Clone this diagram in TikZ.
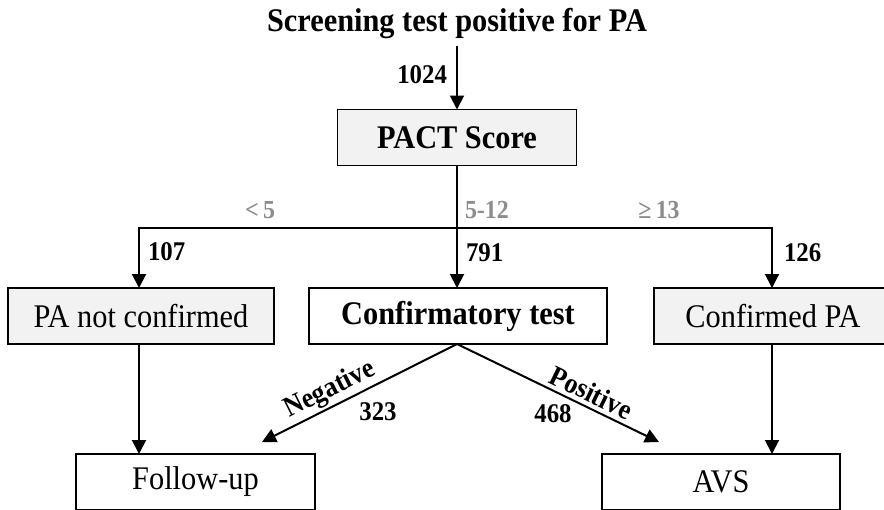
\documentclass[tikz,border=0pt]{standalone}
\usepackage{fontspec}
\setmainfont[FakeStretch=0.92]{Liberation Serif}
\usetikzlibrary{arrows.meta}
\definecolor{boxfill}{RGB}{242,242,242}
\definecolor{rangegray}{RGB}{140,140,140}
\begin{document}
\begin{tikzpicture}[x=1pt,y=-1pt,
  every node/.style={inner sep=0pt, outer sep=0pt},
  flowbox/.style={draw=black, line width=1.4pt, rectangle, minimum height=56pt,
    font=\fontsize{33}{36}\selectfont},
  shadedbox/.style={flowbox, fill=boxfill},
  flow/.style={line width=2pt, line join=miter,
    -{Triangle[length=14pt,width=14pt]}},
  countlabel/.style={font=\fontsize{27}{30}\selectfont\bfseries},
  scorelabel/.style={font=\fontsize{26}{30}\selectfont\bfseries, text=rangegray},
  branchlabel/.style={font=\fontsize{28.5}{30}\selectfont\bfseries}
]
\clip (0,0) rectangle (884,509);
\fill[white] (0,0) rectangle (884,509);

% title and first step
\node[font=\fontsize{33}{36}\selectfont\bfseries, anchor=base, inner ysep=8pt] (title) at (457,31) {Screening test positive for PA};
\node[shadedbox, minimum width=239pt, font=\fontsize{33}{36}\selectfont\bfseries] (pact) at (457,137.5) {PACT Score};
\draw[flow] (title.south) -- (pact.north);
\node[countlabel, anchor=east] (n1024) at (447,74.5) {1024};

% second row
\node[shadedbox, minimum width=266pt] (notconf) at (141,316) {PA not confirmed};
\node[flowbox, minimum width=298pt, font=\fontsize{33}{36}\selectfont\bfseries] (conf) at (458,316) {Confirmatory test};
\node[shadedbox, minimum width=238pt] (confpa) at (773,316) {Confirmed PA};

% split by score
\coordinate (split) at (457,228);
\draw[line width=2pt] (pact.south) -- (split);
\draw[flow] (split) -| (notconf.north -| 139,0);
\draw[flow] (split) -- (conf.north -| split);
\draw[flow] (split) -| (confpa.north -| 772,0);

\node[scorelabel] (lt5) at (260,210) {<\,5};
\node[scorelabel, anchor=west] (mid) at (465,210) {5-12};
\node[scorelabel] (ge13) at (659,210) {≥\,13};

\node[countlabel, anchor=west] (n107) at (148,251.5) {107};
\node[countlabel, anchor=west] (n791) at (466,252.5) {791};
\node[countlabel, anchor=west] (n126) at (784,252.5) {126};

% third row
\node[flowbox, minimum width=239pt] (follow) at (195.5,482) {Follow-up};
\node[flowbox, minimum width=238pt] (avs) at (721,482) {AVS};

\draw[flow] (notconf.south -| 139,0) -- (follow.north -| 139,0);
\draw[flow] (confpa.south -| 772,0) -- (avs.north -| 772,0);

% outcome of the confirmatory test
\coordinate (negend) at (262,442);
\coordinate (posend) at (659,442);
\draw[flow] (conf.south -| split) -- (negend)
  node[branchlabel, pos=0.615, sloped, above=3pt] (neg) {Negative};
\draw[flow] (conf.south -| split) -- (posend)
  node[branchlabel, pos=0.633, sloped, above=5pt] (pos) {Positive};
\node[countlabel] (n323) at (378,412) {323};
\node[countlabel] (n468) at (553,414) {468};
\end{tikzpicture}
\end{document}
